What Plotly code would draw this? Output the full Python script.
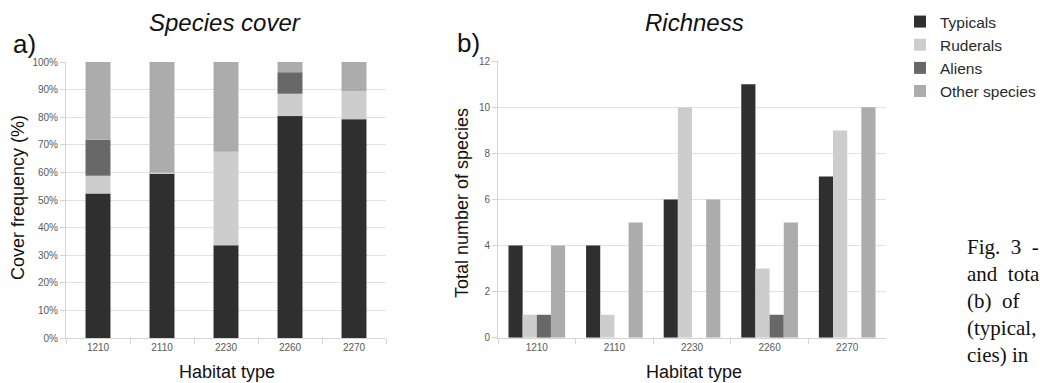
import numpy as np
import plotly.graph_objects as go

# ---------------- data ----------------
habitats = ["1210", "2110", "2230", "2260", "2270"]
series_names = ["Typicals", "Ruderals", "Aliens", "Other species"]

# a) Species cover (% of cover, stacked)
cover_typicals = [52.4, 59.6, 33.6, 80.4, 79.3]
cover_ruderals = [6.4, 0.4, 33.9, 8.1, 10.2]
cover_aliens = [13.0, 0.0, 0.0, 7.8, 0.0]
cover_others = [28.2, 40.0, 32.5, 3.7, 10.5]

# b) Richness (number of species)
rich_typicals = [4, 4, 6, 11, 7]
rich_ruderals = [1, 1, 10, 3, 9]
rich_aliens = [1, 0, 0, 1, 0]
rich_others = [4, 5, 6, 5, 10]

cover_ticks = [0, 10, 20, 30, 40, 50, 60, 70, 80, 90, 100]
cover_tick_labels = ["0%", "10%", "20%", "30%", "40%", "50%", "60%", "70%", "80%", "90%", "100%"]
rich_ticks = [0, 2, 4, 6, 8, 10, 12]

# ---------------- styles ----------------
colors = ["#2f2f2f", "#cdcdcd", "#686868", "#acacac"]
W, H = 1040, 383
grid_col = "#e2e2e2"
axis_col = "#d4d4d4"
tick_font = dict(family="Liberation Sans, Arial, sans-serif", size=10, color="#595959")
sans = "Liberation Sans, Arial, sans-serif"

def px_x(x):
    return x / W

def px_y(y):
    return 1 - y / H

fig = go.Figure()

cover_series = [cover_typicals, cover_ruderals, cover_aliens, cover_others]
rich_series = [rich_typicals, rich_ruderals, rich_aliens, rich_others]

# stacked bars for panel a (base computed from the data)
bases = np.vstack([np.zeros(len(habitats)), np.cumsum(np.array(cover_series), axis=0)[:-1]])
for i, (name, vals) in enumerate(zip(series_names, cover_series)):
    fig.add_trace(go.Bar(
        x=habitats, y=vals, base=bases[i], name=name,
        marker=dict(color=colors[i], line=dict(width=0)),
        width=0.39, offset=-0.195,
        xaxis="x", yaxis="y", legendgroup=name, showlegend=True,
        hovertemplate=name + " %{x}: %{y}%<extra></extra>",
    ))

# grouped bars for panel b
for i, (name, vals) in enumerate(zip(series_names, rich_series)):
    fig.add_trace(go.Bar(
        x=habitats, y=vals, name=name,
        marker=dict(color=colors[i], line=dict(width=0)),
        xaxis="x2", yaxis="y2", legendgroup=name, showlegend=False,
        hovertemplate=name + " %{x}: %{y}<extra></extra>",
    ))

common_x = dict(type="category", tickson="boundaries", ticks="outside", ticklen=5,
                tickcolor=axis_col, showline=True, linecolor=axis_col, linewidth=1,
                showgrid=False, tickfont=tick_font, fixedrange=True, automargin=False)
common_y = dict(ticks="outside", ticklen=5, tickcolor=axis_col, showline=True,
                linecolor=axis_col, linewidth=1, showgrid=True, gridcolor=grid_col,
                gridwidth=1, zeroline=False, tickfont=tick_font, fixedrange=True,
                automargin=False)

fig.update_layout(
    width=W, height=H,
    margin=dict(l=0, r=0, t=0, b=0, pad=0, autoexpand=False),
    paper_bgcolor="white", plot_bgcolor="white",
    barmode="group", bargap=0.27, bargroupgap=0,
    xaxis=dict(domain=[px_x(66), px_x(386)], anchor="y", **common_x),
    yaxis=dict(domain=[px_y(338), px_y(62)], anchor="x", range=[0, 100],
               tickmode="array", tickvals=cover_ticks, ticktext=cover_tick_labels, **common_y),
    xaxis2=dict(domain=[px_x(498), px_x(886)], anchor="y2", **common_x),
    yaxis2=dict(domain=[px_y(337.7), px_y(61.3)], anchor="x2", range=[0, 12],
                tickmode="array", tickvals=rich_ticks, **common_y),
    legend=dict(x=px_x(900), y=px_y(5), xanchor="left", yanchor="top",
                font=dict(family=sans, size=15.5, color="#2a2a2a"),
                bgcolor="rgba(0,0,0,0)", traceorder="normal",
                itemclick=False, itemdoubleclick=False),
    font=dict(family=sans),
    showlegend=True,
)

# top gridline of panel b only reaches part of the width
fig.add_shape(type="line", xref="paper", yref="y2",
              x0=px_x(811), x1=px_x(888), y0=12, y1=12,
              line=dict(color="white", width=3), layer="above")

ann = []
def text(x, y, s, size, italic=False, angle=0, family=sans, xanchor="center", color="#111111"):
    ann.append(dict(x=px_x(x), y=px_y(y), xref="paper", yref="paper", text=s,
                    showarrow=False, xanchor=xanchor, yanchor="middle", textangle=angle,
                    font=dict(family=family, size=size, color=color,
                              style="italic" if italic else "normal")))

text(225, 23, "Species cover", 24, italic=True)
text(694, 23, "Richness", 24, italic=True)
text(24, 44, "a)", 26)
text(468, 43, "b)", 26)
text(227, 372, "Habitat type", 18)
text(694, 372, "Habitat type", 18)
text(18, 198, "Cover frequency (%)", 18, angle=-90)
text(462, 203, "Total number of species", 18, angle=-90)

serif = "Liberation Serif, Times New Roman, serif"
cap_lines = ["Fig.\u00a0\u00a03\u00a0\u00a0-", "and\u00a0\u00a0tota", "(b)\u00a0\u00a0of",
             "(typical,", "cies)\u00a0in"]
for k, line in enumerate(cap_lines):
    text(965, 247 + 27 * k, line, 21, family=serif, xanchor="left")

fig.update_layout(annotations=ann)
fig.write_html("out.html",
               config={"displayModeBar": False, "staticPlot": False},
               post_script="document.body.style.margin='0';document.body.style.overflow='hidden';")
